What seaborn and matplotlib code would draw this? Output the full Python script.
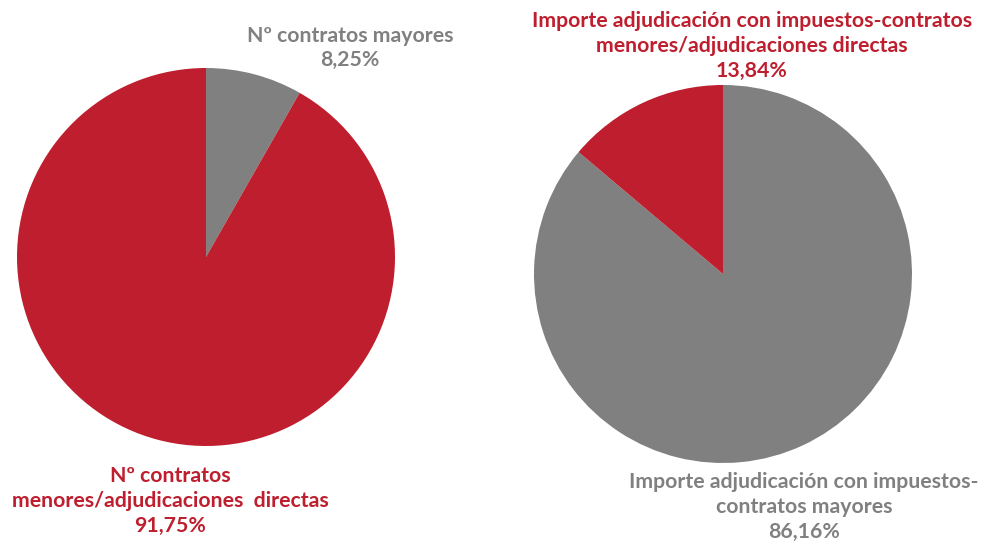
# Twee taartdiagrammen: aantal contratos en importe adjudicación
import seaborn as sns
import matplotlib.pyplot as plt

sns.set_theme(style="white")
plt.rcParams['font.family'] = ['Lato', 'DejaVu Sans']

# Data
left_labels = ["Nº contratos mayores", "Nº contratos\nmenores/adjudicaciones  directas"]
left_values = [8.25, 91.75]
right_labels = ["Importe adjudicación con impuestos-\ncontratos mayores",
                "Importe adjudicación con impuestos-contratos\nmenores/adjudicaciones directas"]
right_values = [86.16, 13.84]

red = "#BE1E2D"
gray = "#808080"
colors = [gray, red]

W, H = 983, 543
fig = plt.figure(figsize=(W / 100, H / 100), dpi=100)

def px_axes(cx, cy, r):
    return fig.add_axes([(cx - r) / W, 1 - (cy + r) / H, 2 * r / W, 2 * r / H])

ax1 = px_axes(206, 257, 189)
ax1.pie(left_values, colors=colors, startangle=90, counterclock=False,
        wedgeprops=dict(linewidth=0))
ax1.set_xlim(-1, 1)
ax1.set_ylim(-1, 1)
ax1.axis("off")

ax2 = px_axes(723, 274, 189)
ax2.pie(right_values, colors=colors, startangle=90, counterclock=False,
        wedgeprops=dict(linewidth=0))
ax2.set_xlim(-1, 1)
ax2.set_ylim(-1, 1)
ax2.axis("off")

def fmt(v):
    return f"{v:.2f}".replace(".", ",") + "%"

txt = dict(ha="center", va="center", fontsize=15.3, fontweight="bold", linespacing=1.3)
fig.text(350 / W, 1 - 48 / H, left_labels[0] + "\n" + fmt(left_values[0]), color=gray, **txt)
fig.text(170 / W, 1 - 501 / H, left_labels[1] + "\n" + fmt(left_values[1]), color=red, **txt)
fig.text(752 / W, 1 - 46 / H, right_labels[1] + "\n" + fmt(right_values[1]), color=red, **txt)
fig.text(804 / W, 1 - 507 / H, right_labels[0] + "\n" + fmt(right_values[0]), color=gray, **txt)

fig.savefig("out.png", dpi=100)
